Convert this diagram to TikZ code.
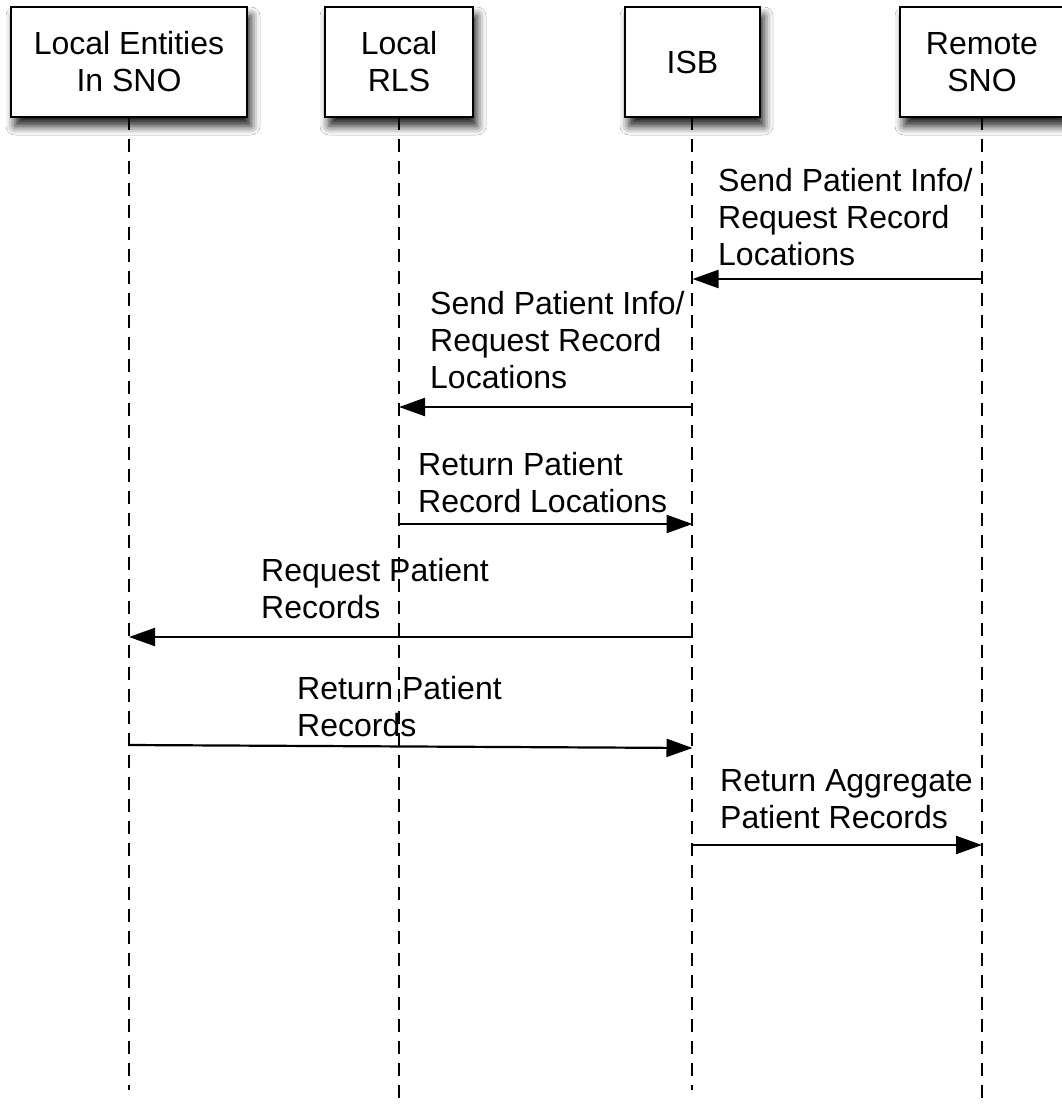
\documentclass[tikz,border=0pt]{standalone}
\usepackage{fontspec}
\setmainfont{Liberation Sans}
\usetikzlibrary{arrows.meta,shadows.blur}
\begin{document}
\begin{tikzpicture}[x=1pt,y=-1pt,
  every node/.style={font=\fontsize{32}{37}\selectfont},
  actor/.style={draw,line width=2.8pt,fill=white,minimum height=110pt,inner sep=0pt,align=center,
     blur shadow={shadow xshift=4pt,shadow yshift=-9pt,shadow blur radius=9pt,shadow opacity=90}},
  life/.style={line width=2.2pt,dash pattern=on 13pt off 9pt},
  msg/.style={line width=2.2pt,-{Triangle[length=26pt,width=18pt]}},
  lbl/.style={anchor=base west,align=left,inner sep=0pt}
]
\useasboundingbox (0,0) rectangle (1062,1106);
\fill[white] (0,0) rectangle (1062,1106);
% lifelines
\coordinate (e1) at (129,1090);
\coordinate (e2) at (399,1112);
\coordinate (e3) at (692,1090);
\coordinate (e4) at (982,1112);
\draw[life] (129,117) -- (e1);
\draw[life] (399,117) -- (e2);
\draw[life] (692,117) -- (e3);
\draw[life] (982,117) -- (e4);
% actors
\node[actor,minimum width=236pt] (les) at (129,62) {Local Entities\\In SNO};
\node[actor,minimum width=148pt] (rls) at (399,62) {Local\\RLS};
\node[actor,minimum width=135pt] (isb) at (692.5,62) {ISB};
\node[actor,minimum width=164pt] (sno) at (982,62) {Remote\\SNO};
% messages
\draw[msg] (sno |- 0,279) -- (isb |- 0,279);
\node[lbl] (l1) at (718,265) {Send Patient Info/\\Request Record\\Locations};
\draw[msg] (isb |- 0,407) -- (rls |- 0,407);
\node[lbl] (l2) at (430,388) {Send Patient Info/\\Request Record\\Locations};
\draw[msg] (rls |- 0,524) -- (isb |- 0,524);
\node[lbl] (l3) at (418,512) {Return Patient\\Record Locations};
\draw[msg] (isb |- 0,637) -- (les |- 0,637);
\node[lbl] (l4) at (261,618) {Request Patient\\Records};
\draw[msg] (les |- 0,745) -- (isb |- 0,748);
\node[lbl] (l5) at (297,736) {Return Patient\\Records};
\draw[msg] (isb |- 0,845) -- (sno |- 0,845);
\node[lbl] (l6) at (720,828) {Return Aggregate\\Patient Records};
\end{tikzpicture}
\end{document}
